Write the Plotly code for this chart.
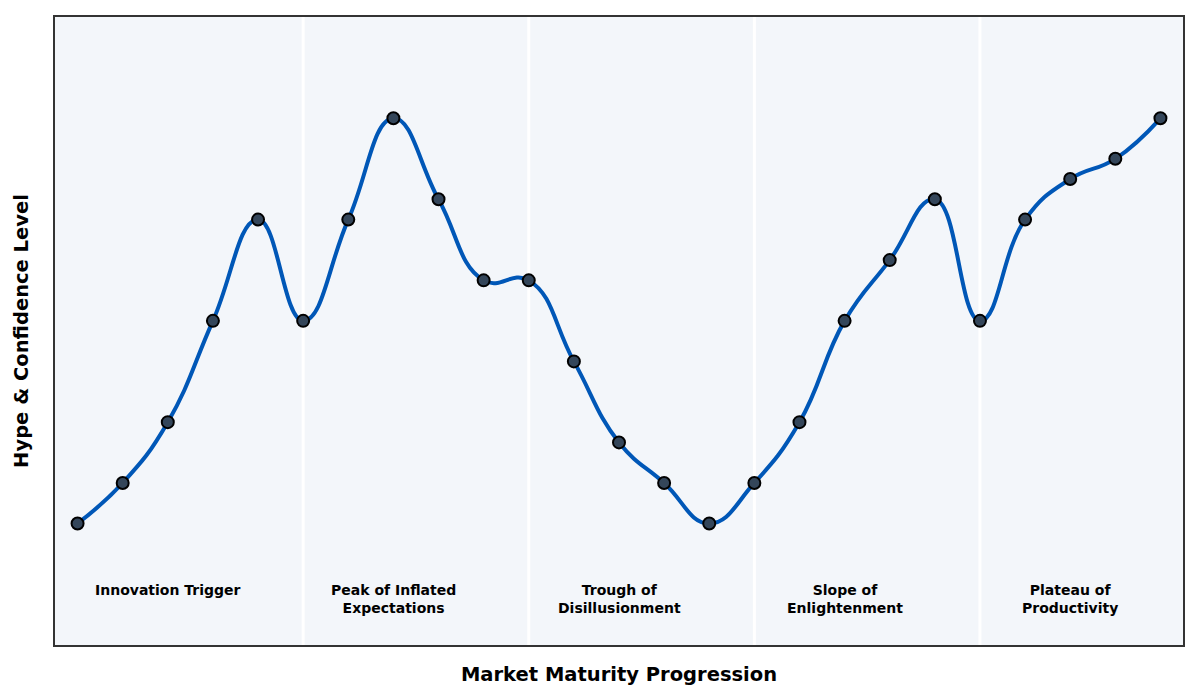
import plotly.graph_objects as go

# Hype cycle readings, one per step along the maturity axis
steps = list(range(25))
hype = [10, 20, 35, 60, 85, 60, 85, 110, 90, 70, 70, 50, 30, 20, 10,
        20, 35, 60, 75, 90, 60, 85, 95, 100, 110]

phase_labels = ["Innovation Trigger", "Peak of Inflated<br>Expectations",
                "Trough of<br>Disillusionment", "Slope of<br>Enlightenment",
                "Plateau of<br>Productivity"]
phase_centers = [2, 7, 12, 17, 22]
phase_bounds = [5, 10, 15, 20]
label_y = -4

LINE_BLUE = "#0057b7"
MARKER_FILL = "#34465a"
FONT = "DejaVu Sans"

fig = go.Figure()
fig.add_trace(go.Scatter(
    x=steps, y=hype, mode="lines+markers",
    line=dict(color=LINE_BLUE, width=4, shape="spline", smoothing=1.3),
    marker=dict(size=12, color=MARKER_FILL, line=dict(color="#000000", width=2)),
    hoverinfo="x+y", showlegend=False,
))

for b in phase_bounds:
    fig.add_vline(x=b, line=dict(color="white", width=3), layer="below")

for cx, txt in zip(phase_centers, phase_labels):
    fig.add_annotation(x=cx, y=label_y, text=f"<b>{txt}</b>", showarrow=False,
                       yanchor="top", xanchor="center",
                       font=dict(family=FONT, size=14, color="black"))

# page body adds ~8px around the figure, so the figure is trimmed to match
fig.update_layout(
    width=1184, height=684,
    paper_bgcolor="white", plot_bgcolor="#f3f6fa",
    margin=dict(l=47, r=7, t=7, b=47),
    font=dict(family=FONT),
    xaxis=dict(range=[-0.5, 24.5], showticklabels=False, ticks="", showgrid=False,
               zeroline=False, showline=True, linecolor="#333333", linewidth=2, mirror=True,
               title=dict(text="<b>Market Maturity Progression</b>", standoff=21,
                          font=dict(family=FONT, size=19.5, color="black"))),
    yaxis=dict(range=[-20, 135], showticklabels=False, ticks="", showgrid=False,
               zeroline=False, showline=True, linecolor="#333333", linewidth=2, mirror=True,
               title=dict(text="<b>Hype & Confidence Level</b>", standoff=19,
                          font=dict(family=FONT, size=19.5, color="black"))),
)

fig.write_html("out.html")
